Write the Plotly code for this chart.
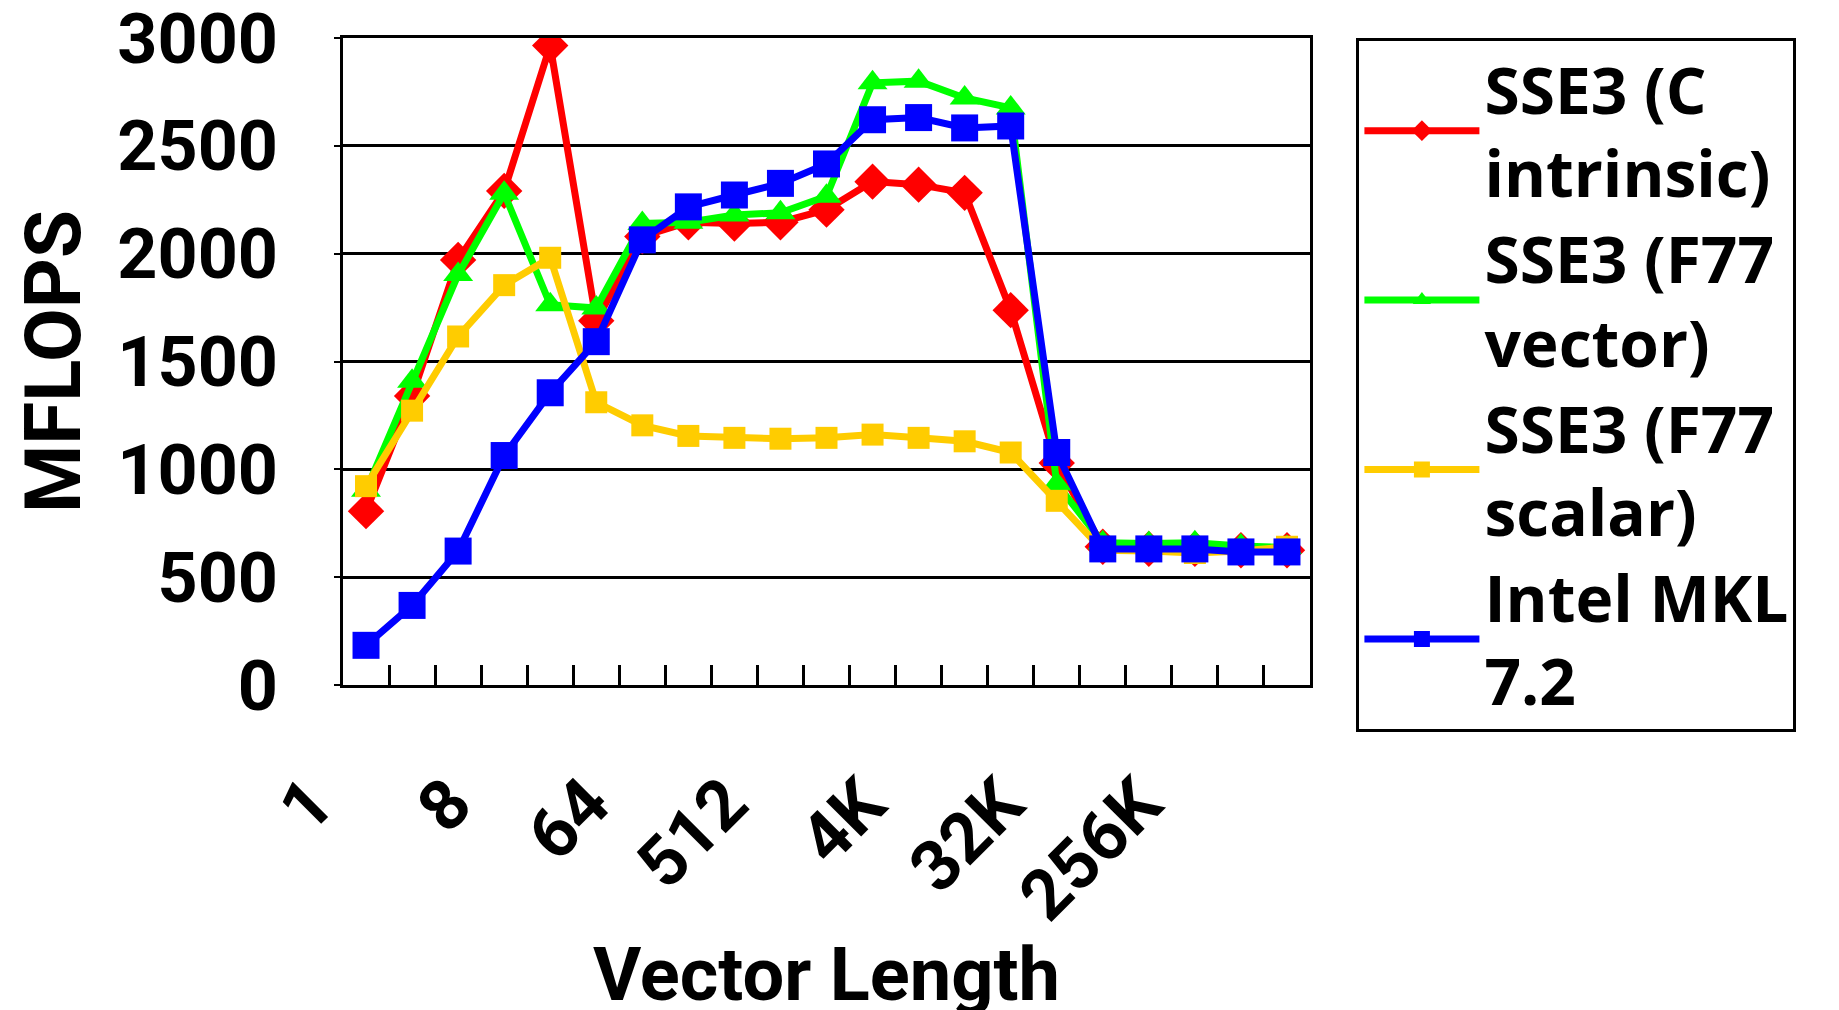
import plotly.graph_objects as go

# Vector lengths (categories)
categories = ["1", "2", "4", "8", "16", "32", "64", "128", "256", "512",
              "1K", "2K", "4K", "8K", "16K", "32K", "64K", "128K", "256K", "512K", "1M"]
labeled = ["1", "8", "64", "512", "4K", "32K", "256K"]
y_ticks = [0, 500, 1000, 1500, 2000, 2500, 3000]

# MFLOPS per series
sse3_c_intrinsic = [806, 1340, 1971, 2291, 2965, 1689, 2080, 2146, 2140, 2146, 2204,
                    2334, 2320, 2282, 1738, 1029, 641, 631, 631, 625, 625]
sse3_f77_vector = [903, 1408, 1903, 2280, 1763, 1748, 2140, 2146, 2179, 2190, 2266,
                   2792, 2800, 2722, 2676, 932, 660, 656, 660, 645, 637]
sse3_f77_scalar = [922, 1272, 1616, 1854, 1981, 1311, 1204, 1155, 1146, 1142, 1146,
                   1161, 1146, 1130, 1078, 854, 625, 621, 612, 621, 641]
intel_mkl = [184, 369, 621, 1064, 1355, 1592, 2064, 2217, 2272, 2326, 2416,
             2621, 2631, 2583, 2592, 1078, 631, 631, 631, 617, 617]

series = [
    ("SSE3 (C<br>intrinsic)", sse3_c_intrinsic, "#FF0000", "diamond", 28),
    ("SSE3 (F77<br>vector)", sse3_f77_vector, "#00FF00", "triangle-up", 26),
    ("SSE3 (F77<br>scalar)", sse3_f77_scalar, "#FFCC00", "square", 22),
    ("Intel MKL<br>7.2", intel_mkl, "#0000FF", "square", 27),
]

FONT = "Roboto"

fig = go.Figure()
for name, vals, color, sym, size in series:
    fig.add_trace(go.Scatter(
        x=categories, y=vals, name=name, mode="lines+markers",
        line=dict(color=color, width=7),
        marker=dict(color=color, symbol=sym, size=size, line=dict(width=0)),
    ))

# rotated category labels (category axis: annotation x given as category index)
for lab in labeled:
    fig.add_annotation(
        x=categories.index(lab), xref="x", y=0, yref="paper",
        text=lab, showarrow=False, textangle=-45,
        xanchor="right", yanchor="top", xshift=-14, yshift=-74,
        font=dict(family=FONT, size=70, color="black", weight="bold"),
    )

fig.update_layout(
    width=1839, height=1010,
    margin=dict(l=335, r=537, t=30, b=333, autoexpand=False),
    paper_bgcolor="white", plot_bgcolor="white",
    font=dict(family=FONT, size=70, color="black", weight="bold"),
    showlegend=True,
    legend=dict(
        x=1.048, xanchor="left", y=1.0, yanchor="top",
        bordercolor="black", borderwidth=3, bgcolor="white",
        font=dict(family="Open Sans", size=64, color="black", weight="bold"),
        itemwidth=115, tracegroupgap=0, maxheight=1000,
        entrywidth=520, entrywidthmode="pixels",
    ),
    xaxis=dict(
        type="category", categoryorder="array", categoryarray=categories,
        range=[-0.5, len(categories) - 0.5], autorange=False,
        tickmode="array", tickvals=categories, ticktext=["" for _ in categories],
        tickson="boundaries", ticks="inside", ticklen=20, tickwidth=3, tickcolor="black",
        showticklabels=False,
        showline=True, linecolor="black", linewidth=3, mirror=True,
        showgrid=False, zeroline=False,
        title=dict(text="Vector Length", standoff=262,
                   font=dict(family=FONT, size=74, color="black", weight="bold")),
    ),
    yaxis=dict(
        range=[0, 3000], autorange=False, tickmode="array", tickvals=y_ticks,
        ticktext=[str(v) for v in y_ticks], ticklabeloverflow="allow",
        ticks="outside", ticklen=6, tickwidth=2, tickcolor="black",
        ticklabelstandoff=42,
        tickfont=dict(family=FONT, size=70, color="black", weight="bold"),
        showline=True, linecolor="black", linewidth=3, mirror=True,
        showgrid=True, gridcolor="black", gridwidth=2.5, zeroline=False,
        title=dict(text="MFLOPS", standoff=44,
                   font=dict(family=FONT, size=78, color="black", weight="bold")),
    ),
)

fig.write_html("out.html")
